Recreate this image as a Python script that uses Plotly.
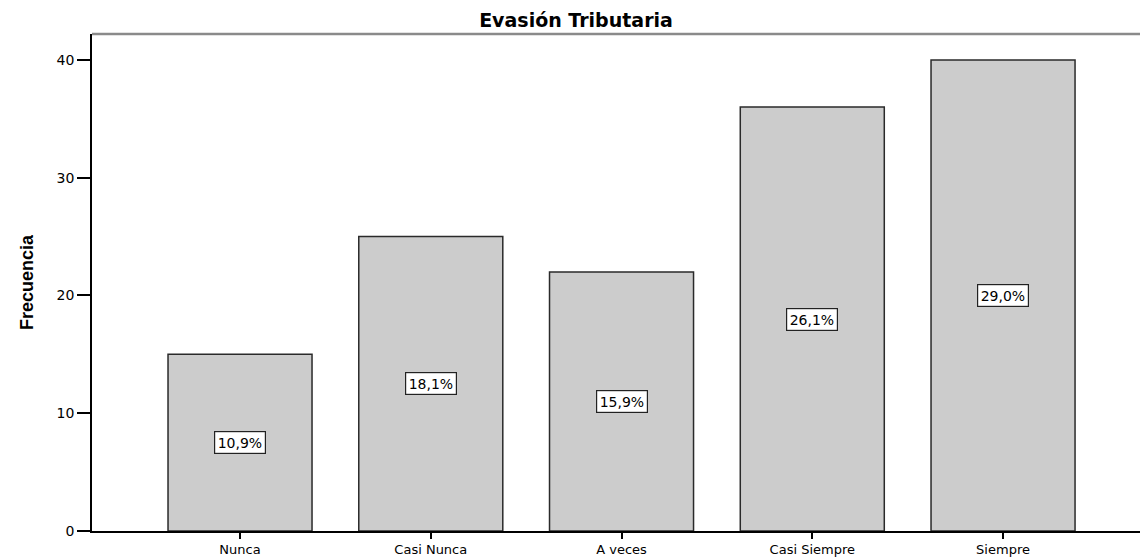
import plotly.graph_objects as go

categories = ["Nunca", "Casi Nunca", "A veces", "Casi Siempre", "Siempre"]
frequencies = [15, 25, 22, 36, 40]
percent_labels = ["10,9%", "18,1%", "15,9%", "26,1%", "29,0%"]
y_ticks = [0, 10, 20, 30, 40]

FONT = "DejaVu Sans, Verdana, sans-serif"

fig = go.Figure()
fig.add_trace(go.Bar(
    x=list(range(len(categories))),
    y=frequencies,
    width=0.755,
    marker=dict(color="#cccccc", line=dict(color="#2a2a2a", width=1.5)),
    hoverinfo="skip",
))

for i, (v, lab) in enumerate(zip(frequencies, percent_labels)):
    fig.add_annotation(
        x=i, y=v / 2, xref="x", yref="y", text=lab, showarrow=False,
        font=dict(family=FONT, size=14, color="black"),
        bgcolor="white", bordercolor="#222", borderwidth=1.2, borderpad=2.5,
    )

fig.add_shape(type="line", xref="paper", yref="paper", x0=0, x1=1, y0=1, y1=1,
              line=dict(color="#8a8a8a", width=2.5))

fig.update_layout(
    width=1140, height=560,
    margin=dict(l=92, r=0, t=34, b=29),
    plot_bgcolor="white", paper_bgcolor="white",
    showlegend=False,
    title=dict(text="<b>Evasión Tributaria</b>", x=576 / 1140, xanchor="center",
               y=1 - 20 / 560, yanchor="middle",
               font=dict(family=FONT, size=19, color="black")),
    xaxis=dict(
        range=[-0.776, 4.718], automargin=False,
        tickmode="array", tickvals=list(range(len(categories))), ticktext=categories,
        showgrid=False, zeroline=False,
        showline=True, linecolor="black", linewidth=1.5,
        ticks="outside", ticklen=6, tickcolor="black", tickwidth=1.5,
        tickfont=dict(family=FONT, size=13, color="black"),
    ),
    yaxis=dict(
        range=[0, 42.2], automargin=False,
        tickmode="array", tickvals=y_ticks,
        showgrid=False, zeroline=False,
        showline=True, linecolor="black", linewidth=1.5,
        ticks="outside", ticklen=13, tickcolor="black", tickwidth=1.5,
        tickfont=dict(family=FONT, size=14, color="black"),
        title=dict(text="<b>Frecuencia</b>", standoff=18,
                   font=dict(family="Liberation Sans, Arial, sans-serif", size=18, color="black")),
    ),
)

fig.write_html("out.html", config={"displayModeBar": False},
               post_script="document.body.style.margin='0';document.body.style.overflow='hidden';")
